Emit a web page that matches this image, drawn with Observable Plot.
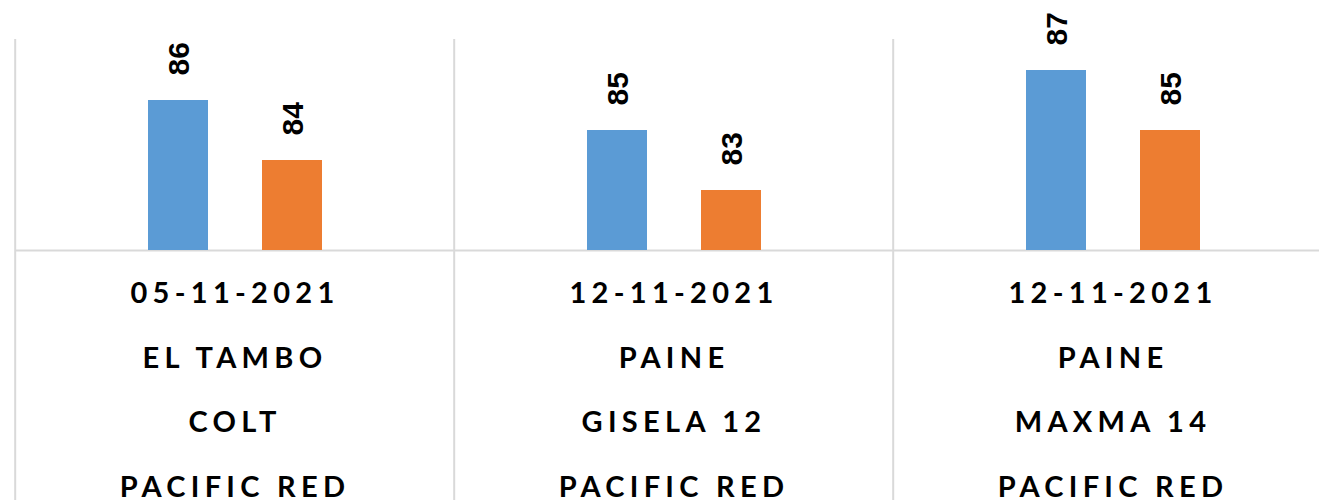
<!DOCTYPE html>
<html>
<head>
<meta charset="utf-8">
<script src="https://cdn.jsdelivr.net/npm/d3@7"></script>
<script src="https://cdn.jsdelivr.net/npm/@observablehq/plot@0.6"></script>
<style>
  html, body { margin: 0; padding: 0; background: #fff; overflow: hidden; }
  #chart { width: 1319px; height: 500px; overflow: hidden; }
  #chart svg { max-width: none !important; }
  g[font-family="Lato"] { letter-spacing: 5.3px; }
</style>
</head>
<body>
<div id="chart"></div>
<script>
// Data
const groups = ["g1", "g2", "g3"];
const dates = ["05-11-2021", "12-11-2021", "12-11-2021"];
const places = ["EL TAMBO", "PAINE", "PAINE"];
const rootstocks = ["COLT", "GISELA 12", "MAXMA 14"];
const varieties = ["PACIFIC RED", "PACIFIC RED", "PACIFIC RED"];
const seriesNames = ["A", "B"];
const seriesA = [86, 85, 87];
const seriesB = [84, 83, 85];
const colors = ["#5B9BD5", "#ED7D31"];

const rows = [];
groups.forEach((g, i) => {
  rows.push({group: g, series: seriesNames[0], value: seriesA[i]});
  rows.push({group: g, series: seriesNames[1], value: seriesB[i]});
});
const labels = groups.map((g, i) => ({
  group: g,
  text: [dates[i], places[i], rootstocks[i], varieties[i]].join("\n")
}));

const grid = "#D9D9D9";
const chart = Plot.plot({
  width: 1333,
  height: 500,
  marginLeft: 14,
  marginRight: 0,
  marginTop: 40,
  marginBottom: 250,
  style: {maxWidth: "none"},
  fx: {domain: groups, padding: 0, axis: null},
  x: {domain: seriesNames, paddingInner: 0.478, paddingOuter: 1.152, axis: null},
  y: {domain: [81, 88], axis: null},
  color: {domain: seriesNames, range: colors},
  marks: [
    Plot.ruleX(groups, {fx: d => d, x: null, y1: 88.03, y2: 72.3, dx: -219.8, stroke: grid, strokeWidth: 2}),
    Plot.ruleY([81], {stroke: grid, strokeWidth: 2}),
    Plot.barY(rows, {fx: "group", x: "series", y1: 81, y2: "value", fill: "series"}),
    Plot.text(rows, {
      fx: "group", x: "series", y: "value", text: d => String(d.value),
      rotate: -90, textAnchor: "start", lineAnchor: "middle", dy: -25, dx: 1,
      fontSize: 30, fontWeight: "bold", fontFamily: "Liberation Sans", fill: "#000"
    }),
    Plot.text(labels, {
      fx: "group", text: "text", frameAnchor: "bottom", lineAnchor: "top",
      dy: 7, lineHeight: 2.224, fontSize: 29, fontWeight: "bold", fontFamily: "Lato",
      fill: "#000"
    })
  ]
});
document.getElementById("chart").appendChild(chart);
</script>
</body>
</html>
